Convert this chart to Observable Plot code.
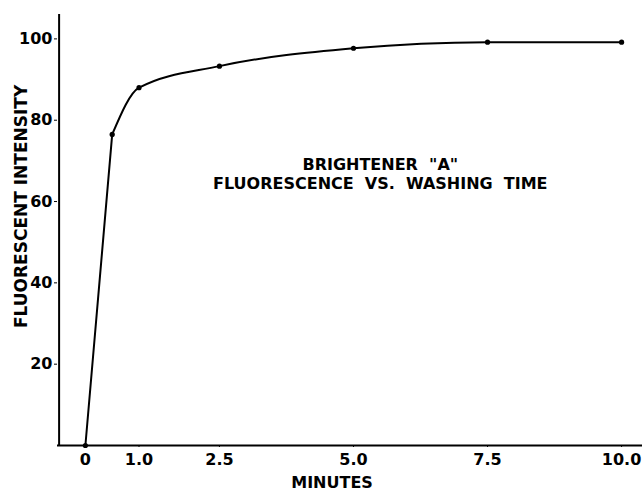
<!DOCTYPE html>
<html>
<head>
<meta charset="utf-8">
<script src="https://cdn.jsdelivr.net/npm/d3@7"></script>
<script src="https://cdn.jsdelivr.net/npm/@observablehq/plot@0.6"></script>
<style>
  html, body { margin: 0; padding: 0; background: #fff; }
  #chart svg { display: block; }
</style>
</head>
<body>
<div id="chart"></div>
<script>
const minutes = [0, 0.5, 1.0, 2.5, 5.0, 7.5, 10.0];
const intensity = [0, 76.5, 88, 93.3, 97.7, 99.2, 99.2];
const xTicks = [0, 1.0, 2.5, 5.0, 7.5, 10.0];
const xTickLabels = ["0", "1.0", "2.5", "5.0", "7.5", "10.0"];
const yTicks = [20, 40, 60, 80, 100];
const xDomain = [-0.52, 10.39];
const yDomain = [0, 106];
const xLabel = "MINUTES";
const yLabel = "FLUORESCENT INTENSITY";
const xLabelPos = 4.6;    // minutes, where the x title is centred
const yLabelPos = 58.8;   // intensity, where the y title is centred
const annotation = ['BRIGHTENER  "A"', "FLUORESCENCE  VS.  WASHING  TIME"];
const annotationPos = {x: 5.5, y: 66.8};

const data = minutes.map((m, i) => ({minutes: m, intensity: intensity[i]}));
const rise = data.slice(0, 2);     // straight initial rise
const plateau = data.slice(1);     // smooth curve afterwards
const font = "'DejaVu Sans', sans-serif";

const chart = Plot.plot({
  width: 644,
  height: 491,
  marginLeft: 57,
  marginRight: 2,
  marginTop: 14,
  marginBottom: 46,
  style: {fontFamily: font, fontSize: "16px", fontWeight: "bold", color: "#000", background: "#fff"},
  x: {domain: xDomain},
  y: {domain: yDomain},
  marks: [
    Plot.ruleY([yDomain[0]], {strokeWidth: 2}),
    Plot.ruleX([xDomain[0] + 0.03], {strokeWidth: 2}),
    Plot.axisX({
      ticks: xTicks,
      tickFormat: (d) => xTickLabels[xTicks.indexOf(d)],
      tickSize: 2,
      tickPadding: 6,
      fontSize: 16,
      label: null
    }),
    Plot.axisY({
      ticks: yTicks,
      tickSize: 3,
      tickPadding: 2,
      fontSize: 16,
      label: null
    }),
    Plot.text([xLabel], {
      x: () => xLabelPos, frameAnchor: "bottom", dy: 37,
      fontSize: 16, fill: "#000", textAnchor: "middle", lineAnchor: "middle"
    }),
    Plot.text([yLabel], {
      y: () => yLabelPos, frameAnchor: "left", dx: -36, rotate: -90,
      fontSize: 17, fill: "#000", textAnchor: "middle", lineAnchor: "middle"
    }),
    Plot.line(rise, {x: "minutes", y: "intensity", curve: "linear", strokeWidth: 2, stroke: "#000"}),
    Plot.line(plateau, {x: "minutes", y: "intensity", curve: "monotone-x", strokeWidth: 2, stroke: "#000"}),
    Plot.dot(data, {x: "minutes", y: "intensity", r: 2.6, fill: "#000"}),
    Plot.text([annotation.join("\n")], {
      x: () => annotationPos.x, y: () => annotationPos.y,
      fontSize: 16, lineHeight: 1.19, textAnchor: "middle", fill: "#000"
    })
  ]
});
document.getElementById("chart").appendChild(chart);
</script>
</body>
</html>
